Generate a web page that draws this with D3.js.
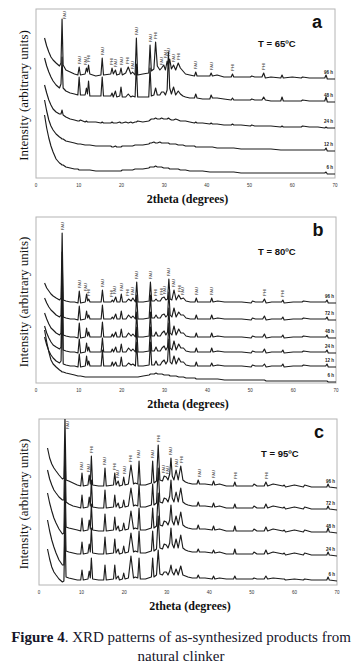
<!DOCTYPE html>
<html>
<head>
<meta charset="utf-8">
<script src="https://cdn.jsdelivr.net/npm/d3@7"></script>
<style>
  body { margin: 0; background: #fff; }
  svg { display: block; }
</style>
</head>
<body>
<svg id="chart" width="362" height="665"></svg>
<script>
// 2theta positions (degrees) shared by every pattern
const theta = [2.0,2.5,3.0,3.5,4.0,4.7,5.5,5.85,6.1,6.35, 7.0,8.0,9.0,9.8,10.1,10.4,11.5,11.8,12.05,12.3,
  12.6,14.0,15.2,15.5,15.8,17.5,17.8,18.1,18.6,18.9, 19.6,19.9,20.2,21.0,21.6,22.2,22.6,23.2,23.5,23.8,
  25.0,26.4,26.7,27.0,27.6,28.0,28.4,29.0,29.4,29.9, 30.3,30.7,31.0,31.3,31.7,32.2,32.7,33.3,33.8,34.4,
  35.0,36.0,37.1,37.4,37.7,39.0,40.7,41.0,41.3,42.4, 44.0,45.7,46.0,46.3,48.0,50.2,50.5,51.2,52.9,53.3,
  53.7,55.0,57.3,57.6,57.9,60.0,62.1,62.4,64.0,66.0, 67.6,67.9,68.2,70.0];
const xTicks = [0, 10, 20, 30, 40, 50, 60, 70];

// ---- panel a : T = 65ºC
const timesA = ["96 h", "48 h", "24 h", "12 h", "6 h"];
const offsetsA = [99, 76, 50, 27, 4];
const a96 = [41,33,27,22,19,16,13,16,60,14, 9,7,5,4,12,4,5,11,7,14, 5,3,4,21,4,5,11,5,9,4,
  5,11,4,6,12,5,7,4,41,4, 5,6,34,8,10,37,13,9,11,14, 9,18,13,20,10,14,9,16,11,8,
  5,4,3,7,3,3,3,6,3,4, 2,2,5,2,2,2,3,2,2,6, 1,2,1,4,1,2,1,2,1,1, 1,4,0,0];
const a48 = [44,36,30,25,21,17,14,18,45,14, 11,9,8,7,25,7,7,14,8,21, 6,6,6,25,6,6,9,5,11,5,
  6,15,5,5,8,5,6,5,38,5, 5,5,34,6,7,14,7,7,10,10, 7,12,50,14,8,15,7,11,8,6,
  5,4,4,8,4,3,3,7,4,4, 3,2,4,2,2,2,3,2,2,5, 2,1,1,5,1,1,1,2,1,1, 1,5,0,0];
const a24 = [43,35,28,23,19,16,14,14,18,13, 11,9,8,7,7,8,6,7,6,6, 6,6,5,6,5,5,6,5,5,5,
  6,5,5,6,5,6,5,6,6,7, 6,7,8,9,9,10,9,9,10,9, 9,9,10,9,8,8,9,8,7,7,
  7,6,5,6,5,5,4,5,4,4, 3,3,4,3,3,2,3,2,2,2, 2,2,1,2,1,1,1,2,1,1, 0,1,0,0];
const a12 = [51,40,31,25,21,17,14,13,12,12, 10,9,8,7,7,7,6,6,6,6, 6,5,5,5,5,5,4,4,5,4,
  4,4,5,5,5,5,5,6,6,6, 6,7,8,8,9,8,8,9,8,8, 8,8,8,7,7,7,7,6,6,6,
  5,5,5,4,4,4,4,4,4,3, 3,3,3,3,2,2,2,2,2,2, 2,2,1,1,1,1,1,1,1,1, 1,3,0,0];
const a6 = [59,46,36,28,22,15,11,10,9,9, 7,6,5,5,4,4,4,4,4,4, 4,3,3,3,3,3,3,3,3,3,
  3,3,4,4,4,4,4,5,5,5, 5,6,7,7,7,8,7,7,7,6, 6,6,6,5,5,5,5,5,4,4,
  4,3,3,3,3,3,2,2,2,2, 2,2,2,2,1,1,1,1,1,1, 1,1,1,1,1,1,1,1,1,1, 1,2,0,0];
const peakPosA = [6.1,10.1,11.7,12.3,15.5,17.7,18.5,20.0,21.5,22.5,23.5,26.7,27.9,29.4,30.4,31.1,32.2,33.4,37.4,41.0,45.9,53.3];
const peakNameA = ["FAU","FAU","FAU","PHI","FAU","PHI","FAU","FAU","PHI","FAU","FAU","FAU","PHI","FAU","FAU","FAU","FAU","PHI","FAU","FAU","PHI","PHI"];

// ---- panel b : T = 80ºC
const timesB = ["96 h", "72 h", "48 h", "24 h", "12 h", "6 h"];
const offsetsB = [80, 63, 45, 30, 16, 1];
const b96 = [20,15,12,9,7,5,3,5,70,3, 2,1,1,0,12,0,1,9,2,4, 1,1,1,13,1,1,3,1,6,1,
  1,9,1,1,4,2,5,1,21,1, 1,2,21,2,2,4,2,2,5,6, 3,4,24,4,3,13,3,8,4,5,
  2,1,1,5,1,1,1,5,1,2, 1,1,1,1,1,0,2,1,1,4, 0,1,1,3,0,1,1,2,1,1, 1,3,0,0];
const b72 = [22,17,13,10,8,5,3,5,68,3, 2,1,1,0,14,0,1,9,2,5, 1,1,1,15,1,1,3,1,6,1,
  1,9,1,1,5,2,4,1,25,1, 1,2,25,2,2,5,2,2,5,6, 3,5,28,5,3,12,3,8,5,5,
  2,1,1,5,1,1,1,5,1,2, 1,1,1,1,1,0,2,1,1,4, 0,1,1,3,0,1,1,2,1,1, 1,3,0,0];
const b48 = [25,19,14,10,8,5,3,5,70,3, 2,1,1,0,15,0,1,10,2,6, 1,1,1,16,1,1,4,1,6,1,
  1,9,1,1,5,2,4,1,26,1, 1,2,26,2,2,6,2,2,5,7, 3,6,30,5,3,12,3,9,5,5,
  2,1,1,5,1,1,1,5,1,2, 1,1,1,1,1,0,2,1,1,4, 0,1,1,3,0,1,1,2,1,1, 1,3,0,0];
const b24 = [27,20,15,11,8,6,4,6,68,3, 2,1,1,0,14,0,1,10,2,6, 1,1,1,15,1,1,4,1,6,1,
  1,9,1,1,5,2,4,1,26,1, 1,2,26,2,2,6,2,2,5,7, 3,6,30,5,3,12,3,9,5,5,
  2,1,1,5,1,1,1,5,1,2, 1,1,1,1,1,0,2,1,1,4, 0,1,1,3,0,1,1,2,1,1, 1,3,0,0];
const b12 = [30,22,16,12,9,6,4,6,66,3, 2,1,1,0,13,0,1,11,2,6, 1,1,1,17,1,1,5,1,5,1,
  1,10,1,1,4,2,3,1,25,1, 1,2,25,2,2,6,2,2,5,7, 3,6,28,5,3,11,3,9,5,5,
  2,1,1,5,1,1,1,4,1,2, 1,1,1,1,1,0,2,1,1,3, 0,1,1,3,0,1,1,2,1,1, 1,3,0,0];
const b6 = [52,40,30,22,18,15,12,11,10,10, 9,8,7,6,6,6,5,5,5,5, 5,5,5,5,5,5,5,5,5,5,
  5,5,5,5,5,5,5,5,5,5, 6,7,8,8,8,9,8,8,8,7, 7,7,7,6,6,6,6,5,5,5,
  4,4,4,3,3,3,3,3,3,3, 2,2,2,2,2,2,2,2,2,2, 1,1,1,1,1,1,1,1,1,1, 1,1,0,0];
const peakPosB = [6.1,10.1,11.6,12.3,15.5,17.6,18.4,20.0,21.4,22.6,23.5,26.7,27.9,29.3,30.1,31.0,32.2,33.5,34.3,37.4,41.0,53.3,57.6];
const peakNameB = ["FAU","FAU","FAU","PHI","FAU","PHI","FAU","FAU","PHI","FAU","FAU","FAU","PHI","PHI","FAU","FAU","FAU","PHI","FAU","FAU","FAU","PHI","PHI"];

// ---- panel c : T = 95ºC
const timesC = ["96 h", "72 h", "48 h", "24 h", "6 h"];
const offsetsC = [97, 75, 52, 29, 4];
const c96 = [40,30,24,20,17,13,9,10,70,8, 7,5,3,2,15,2,3,13,4,32, 3,2,2,20,2,3,15,3,7,2,
  3,11,3,4,23,4,5,4,27,3, 3,5,27,5,7,43,8,7,12,11, 8,14,30,12,8,18,8,22,8,6,
  5,4,4,8,4,4,3,7,3,4, 2,2,6,2,2,2,4,2,2,6, 2,4,2,3,1,3,1,3,1,1, 1,4,1,0];
const c72 = [40,31,25,20,17,13,10,10,65,8, 6,4,3,2,15,2,3,13,4,30, 3,2,2,20,2,3,15,3,7,2,
  3,10,3,4,22,4,5,4,26,3, 3,5,26,5,7,42,8,7,12,11, 8,14,30,12,8,18,8,22,8,6,
  5,4,4,8,4,4,3,7,3,4, 2,2,6,2,2,2,4,2,2,6, 2,4,2,3,1,3,1,3,1,1, 1,4,1,0];
const c48 = [40,30,22,15,10,4,-1,0,62,6, 5,4,3,2,15,2,3,13,4,29, 3,2,2,19,2,3,16,3,7,2,
  3,10,3,4,22,4,5,4,25,3, 3,5,25,5,7,40,8,7,12,11, 8,13,28,12,8,17,8,21,8,6,
  5,4,4,8,4,4,3,7,3,4, 2,2,7,2,2,2,4,2,2,6, 2,4,2,3,1,3,1,3,1,1, 1,5,1,0];
const c24 = [36,25,16,9,3,-4,-9,-9,58,5, 4,3,2,2,14,2,3,12,4,28, 3,2,2,19,2,3,17,3,7,2,
  3,10,3,4,23,4,5,4,25,3, 3,5,25,5,7,40,8,7,12,11, 8,13,28,12,8,17,8,21,8,6,
  5,4,4,7,4,4,3,6,3,4, 2,2,7,2,2,2,4,2,2,6, 2,4,2,3,1,3,1,3,1,1, 1,4,1,0];
const c6 = [32,22,14,9,6,2,-1,0,55,4, 3,2,1,1,11,1,2,10,3,23, 2,1,1,16,1,2,16,2,5,1,
  2,8,2,3,25,3,4,3,23,2, 2,4,23,4,6,31,7,6,9,9, 6,10,16,9,6,12,6,15,6,5,
  4,3,3,6,3,3,2,5,2,3, 2,2,5,2,2,2,3,2,2,5, 2,3,2,2,1,2,1,2,1,1, 1,4,1,0];
const peakPosC = [6.1,9.9,11.7,12.4,15.5,17.7,18.4,20.0,21.6,23.4,26.7,28.1,29.3,30.1,31.0,32.2,33.4,37.6,41.0,46.1,53.4];
const peakNameC = ["FAU","FAU","FAU","PHI","FAU","PHI","FAU","FAU","PHI","FAU","FAU","PHI","FAU","FAU","FAU","FAU","PHI","FAU","FAU","PHI","PHI"];

const panels = [
  {id: "a", temp: "T = 65ºC", series: [a96, a48, a24, a12, a6], times: timesA, offsets: offsetsA,
   peaks: peakPosA, names: peakNameA, left: 36, right: 335, top: 9, bottom: 178},
  {id: "b", temp: "T = 80ºC", series: [b96, b72, b48, b24, b12, b6], times: timesB, offsets: offsetsB,
   peaks: peakPosB, names: peakNameB, left: 36, right: 336, top: 217, bottom: 383},
  {id: "c", temp: "T = 95ºC", series: [c96, c72, c48, c24, c6], times: timesC, offsets: offsetsC,
   peaks: peakPosC, names: peakNameC, left: 39, right: 337, top: 419, bottom: 585},
];

const svg = d3.select("#chart");
const serif = "'Liberation Serif', 'Times New Roman', serif";
const sans = "'Liberation Sans', Arial, sans-serif";

panels.forEach(p => {
  const x = d3.scaleLinear().domain([0, 70]).range([p.left, p.right]);
  const y = d3.scaleLinear().domain([0, p.bottom - p.top]).range([p.bottom, p.top]);
  const g = svg.append("g");

  g.append("clipPath").attr("id", "clip-" + p.id)
    .append("rect").attr("x", p.left).attr("y", p.top)
    .attr("width", p.right - p.left).attr("height", p.bottom - p.top);

  g.append("rect").attr("x", p.left).attr("y", p.top)
    .attr("width", p.right - p.left).attr("height", p.bottom - p.top)
    .attr("fill", "none").attr("stroke", "#b4b4b4").attr("stroke-width", 1);

  const lines = g.append("g").attr("clip-path", `url(#clip-${p.id})`);
  p.series.forEach((s, k) => {
    const off = p.offsets[k];
    const line = d3.line().x((d, i) => x(theta[i])).y(d => y(d + off));
    lines.append("path").datum(s).attr("d", line)
      .attr("fill", "none").attr("stroke", "#1c1c1c").attr("stroke-width", 1.15)
      .attr("stroke-linejoin", "round");
    g.append("text").text(p.times[k])
      .attr("x", p.right - 2).attr("y", y(s[s.length - 1] + off) - 5)
      .attr("text-anchor", "end").attr("font-family", sans).attr("font-weight", "bold")
      .attr("font-size", 4.5).attr("fill", "#222");
  });

  // phase labels above the top pattern
  const top = p.series[0], topOff = p.offsets[0];
  p.peaks.forEach((t, j) => {
    let m = -Infinity;
    theta.forEach((v, i) => { if (Math.abs(v - t) <= 0.45) m = Math.max(m, top[i]); });
    let yy = y(m + topOff) - 3, xx = x(t);
    if (yy - 9 < p.top + 1) { yy = p.top + 10; xx += 2.2; }
    g.append("text").text(p.names[j])
      .attr("transform", `translate(${xx},${yy}) rotate(-90)`)
      .attr("dy", "0.35em").attr("font-family", sans).attr("font-size", 4.2).attr("fill", "#333");
  });

  // axis tick labels
  g.selectAll(".tick").data(xTicks).enter().append("text")
    .text(d => d).attr("x", d => x(d)).attr("y", p.bottom + 9)
    .attr("text-anchor", "middle").attr("font-family", sans).attr("font-size", 4.5).attr("fill", "#333");

  g.append("text").text("2theta (degrees)")
    .attr("x", (p.left + p.right) / 2 + 2).attr("y", p.bottom + 25)
    .attr("text-anchor", "middle").attr("font-family", serif).attr("font-weight", "bold")
    .attr("font-size", 12).attr("fill", "#111");

  g.append("text").text("Intensity (arbitrary units)")
    .attr("transform", `translate(23,${(p.top + p.bottom) / 2 + 2}) rotate(-90)`)
    .attr("dy", "0.35em").attr("text-anchor", "middle")
    .attr("font-family", serif).attr("font-size", 13).attr("fill", "#111");

  g.append("text").text(p.id)
    .attr("x", p.right - 18).attr("y", p.top + 19).attr("text-anchor", "middle")
    .attr("font-family", sans).attr("font-weight", "900").attr("font-size", 18).attr("fill", "#111");

  g.append("text").text(p.temp)
    .attr("x", p.left + 222).attr("y", p.top + 38)
    .attr("font-family", sans).attr("font-weight", "bold").attr("font-size", 9.5).attr("fill", "#111");
});

const cap = svg.append("text").attr("x", 181).attr("y", 642).attr("text-anchor", "middle")
  .attr("font-family", serif).attr("font-size", 15).attr("fill", "#15152a");
cap.append("tspan").attr("font-weight", "bold").text("Figure 4");
cap.append("tspan").text(". XRD patterns of as-synthesized products from");
svg.append("text").attr("x", 181).attr("y", 661).attr("text-anchor", "middle")
  .attr("font-family", serif).attr("font-size", 15).attr("fill", "#15152a")
  .text("natural clinker");
</script>
</body>
</html>
